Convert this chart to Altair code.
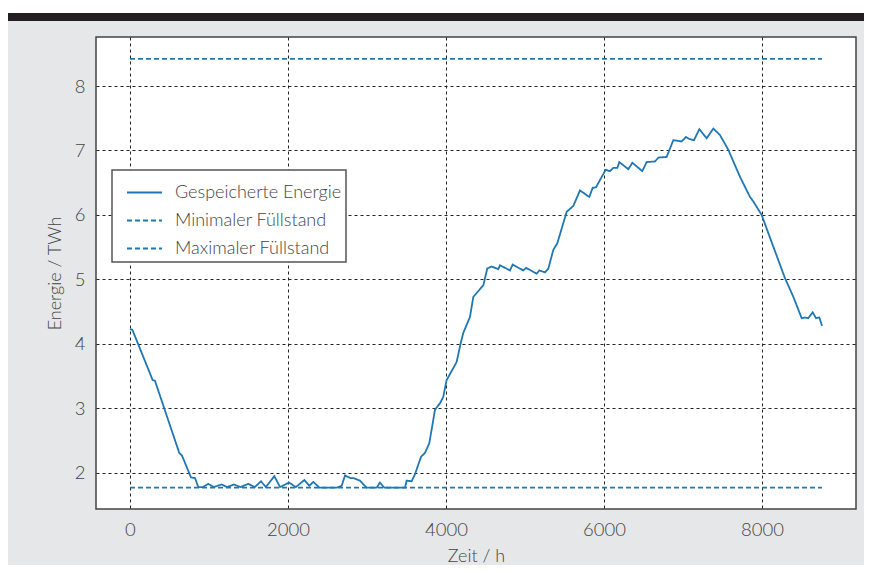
import altair as alt
import pandas as pd

# Data
hours = [0, 30, 287, 316, 624, 658, 772, 823, 865, 920, 991, 1060, 1160, 1230, 1316, 1400, 1498, 1580,
         1658, 1720, 1827, 1900, 2013, 2100, 2207, 2270, 2321, 2400, 2616, 2680, 2722, 2790, 2827, 2911,
         2996, 3122, 3164, 3220, 3481, 3502, 3565, 3608, 3684, 3734, 3789, 3861, 3924, 3966, 4008, 4072,
         4135, 4186, 4219, 4304, 4346, 4473, 4523, 4578, 4662, 4684, 4810, 4844, 4979, 5013, 5148, 5182,
         5253, 5296, 5359, 5409, 5528, 5612, 5696, 5814, 5857, 5899, 5971, 6021, 6076, 6118, 6169, 6194,
         6308, 6359, 6485, 6540, 6646, 6688, 6793, 6878, 6983, 7038, 7080, 7139, 7207, 7300, 7384, 7468,
         7574, 7722, 7848, 7890, 7996, 8143, 8291, 8397, 8502, 8544, 8586, 8641, 8684, 8726, 8760]
energy = [4.23, 4.22, 3.44, 3.43, 2.31, 2.27, 1.93, 1.92, 1.78, 1.78, 1.83, 1.78, 1.82, 1.78, 1.82, 1.78,
          1.83, 1.78, 1.87, 1.78, 1.95, 1.78, 1.85, 1.78, 1.89, 1.80, 1.86, 1.77, 1.77, 1.80, 1.96, 1.92,
          1.92, 1.88, 1.77, 1.77, 1.85, 1.77, 1.77, 1.88, 1.87, 1.98, 2.25, 2.31, 2.46, 2.98, 3.08, 3.18,
          3.44, 3.58, 3.72, 4.01, 4.17, 4.42, 4.73, 4.91, 5.17, 5.20, 5.16, 5.22, 5.14, 5.23, 5.14, 5.18,
          5.09, 5.14, 5.11, 5.17, 5.46, 5.56, 6.05, 6.14, 6.38, 6.28, 6.42, 6.43, 6.59, 6.70, 6.68, 6.73,
          6.73, 6.82, 6.71, 6.81, 6.68, 6.82, 6.83, 6.89, 6.90, 7.16, 7.14, 7.21, 7.18, 7.16, 7.33, 7.19,
          7.34, 7.24, 7.01, 6.59, 6.28, 6.21, 6.00, 5.51, 5.02, 4.73, 4.40, 4.41, 4.40, 4.49, 4.40, 4.41, 4.28]
level_hours = [0, 8760]
min_level = [1.77, 1.77]
max_level = [8.42, 8.42]
series_names = ["Gespeicherte Energie", "Minimaler Füllstand", "Maximaler Füllstand"]

rows = []
for h, e in zip(hours, energy):
    rows.append({"h": h, "v": e, "s": series_names[0]})
for h, e in zip(level_hours, min_level):
    rows.append({"h": h, "v": e, "s": series_names[1]})
for h, e in zip(level_hours, max_level):
    rows.append({"h": h, "v": e, "s": series_names[2]})
df = pd.DataFrame(rows)

FONT = "Lato"
TXT = "#444444"
BLUE = "#1f77b4"

lines = alt.Chart(df).mark_line(strokeWidth=1.8).encode(
    x=alt.X("h:Q", scale=alt.Scale(domain=[-430, 9190], nice=False, zero=False),
            axis=alt.Axis(values=[0, 2000, 4000, 6000, 8000], format="d", title="Zeit / h")),
    y=alt.Y("v:Q", scale=alt.Scale(domain=[1.44, 8.76], nice=False, zero=False),
            axis=alt.Axis(values=[2, 3, 4, 5, 6, 7, 8], format="d", title="Energie / TWh")),
    color=alt.Color("s:N", scale=alt.Scale(domain=series_names, range=[BLUE, BLUE, BLUE]),
                    legend=alt.Legend(title=None, orient="none", legendX=16, legendY=133)),
    strokeDash=alt.StrokeDash("s:N", scale=alt.Scale(domain=series_names, range=[[1, 0], [5, 3], [5, 3]]),
                              legend=alt.Legend(title=None, orient="none", legendX=16, legendY=133)),
    detail="s:N",
)

one = pd.DataFrame({"a": [0]})
white_strip = alt.Chart(one).mark_rect(color="white").encode(
    x=alt.value(-88), x2=alt.value(768), y=alt.value(-29), y2=alt.value(-24))
dark_bar = alt.Chart(one).mark_rect(color="#231f20").encode(
    x=alt.value(-88), x2=alt.value(768), y=alt.value(-24), y2=alt.value(-16))

chart = alt.layer(white_strip, dark_bar, lines).properties(
    width=760, height=472,
    autosize=alt.AutoSizeParams(type="none"),
    padding={"left": 88, "top": 29, "right": 8, "bottom": 56},
    background="#e6e7e8",
).configure_view(
    fill="white", stroke="#444444", strokeWidth=1.5
).configure_axis(
    grid=True, gridColor="#222222", gridDash=[3, 3], gridWidth=1, gridOpacity=1,
    domain=False, ticks=False,
    labelFont=FONT, labelFontSize=18.5, labelFontWeight=300, labelColor=TXT, labelPadding=11,
    titleFont=FONT, titleFontSize=18, titleColor=TXT, titleFontWeight=300,
).configure_axisX(titlePadding=9).configure_axisY(titlePadding=10).configure_legend(
    fillColor="white", strokeColor="#555555", strokeWidth=1.5, padding=4,
    labelFont=FONT, labelFontSize=18, labelFontWeight=300, labelColor=TXT, labelLimit=400,
    symbolType="stroke", symbolSize=1225, symbolStrokeWidth=1.8, symbolOffset=10,
    rowPadding=-4, labelOffset=12, cornerRadius=0,
)

chart.save("out.html", embed_options={"renderer": "svg", "actions": False})
